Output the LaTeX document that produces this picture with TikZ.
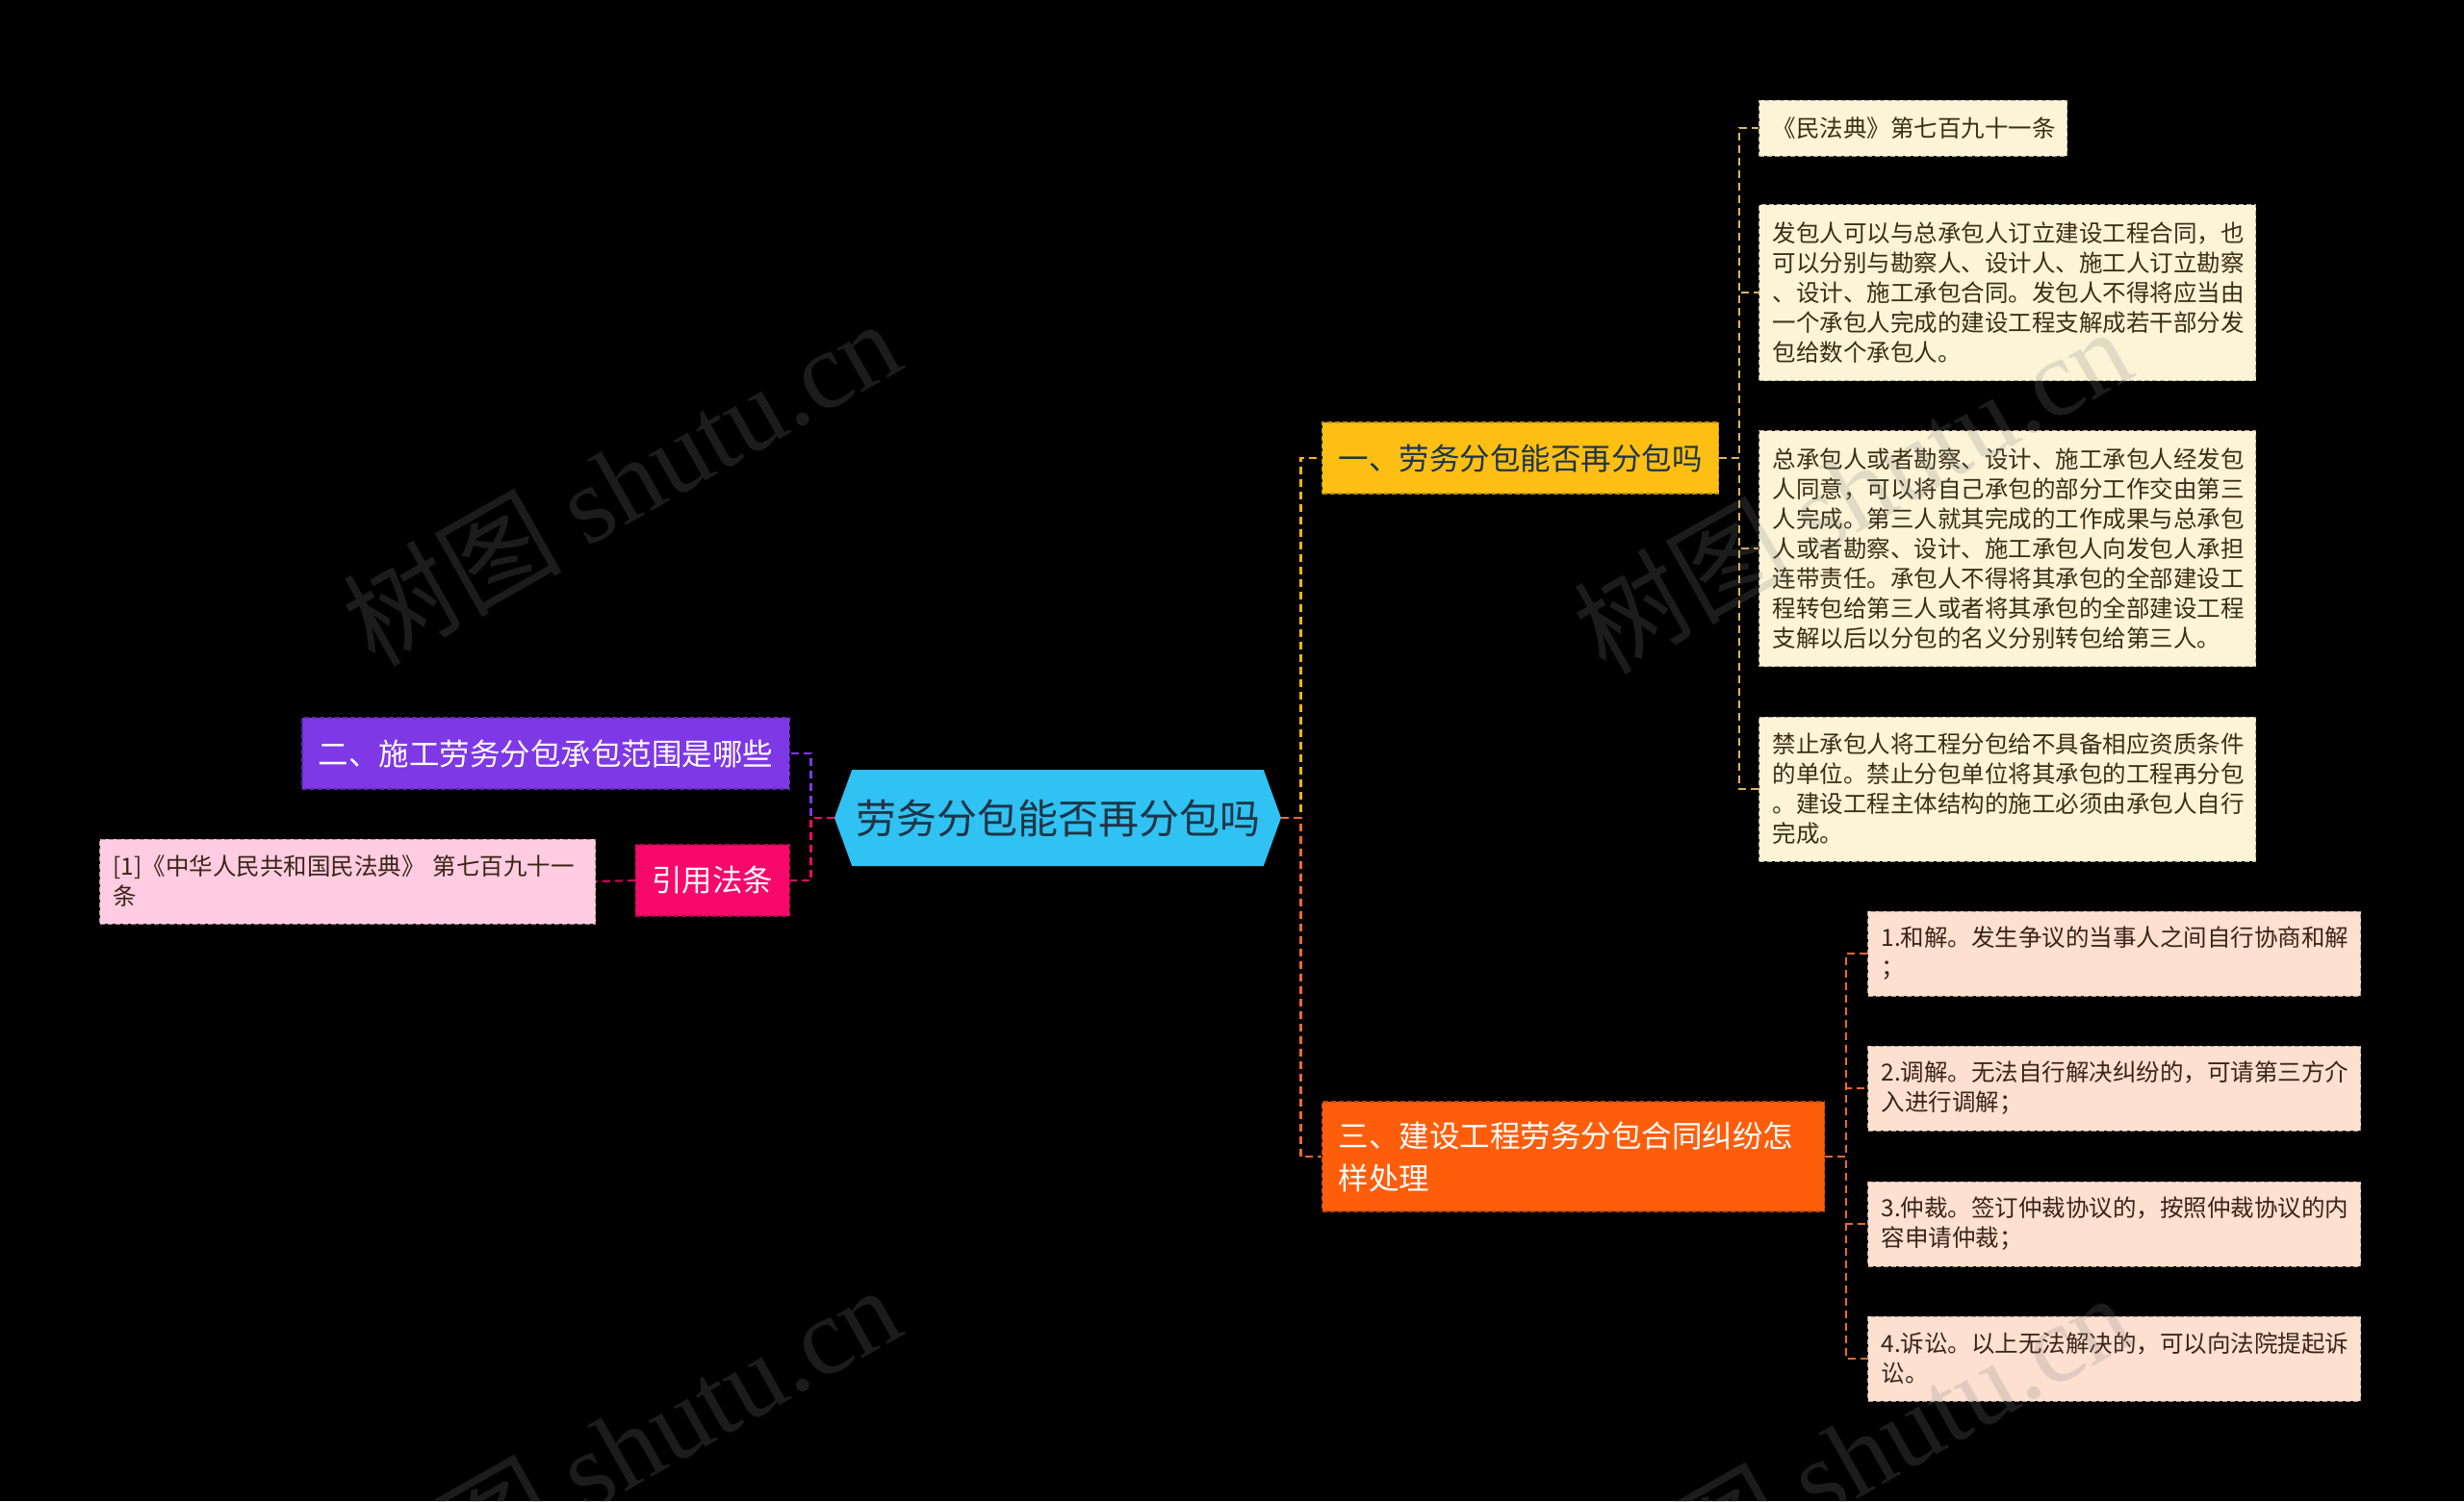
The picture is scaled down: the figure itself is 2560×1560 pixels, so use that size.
\documentclass[tikz,border=0pt]{standalone}
\usepackage{fontspec}
\setmainfont{Noto Sans CJK SC}
\newfontfamily\wmlatin{Liberation Serif}
\usetikzlibrary{shapes.symbols}

\definecolor{rootcyan}{HTML}{2FC2F2}
\definecolor{roottext}{HTML}{1E3546}
\definecolor{goldfill}{HTML}{FDBF14}
\definecolor{goldline}{HTML}{F4B800}
\definecolor{creamfill}{HTML}{FDF4D8}
\definecolor{creamline}{HTML}{DDB55C}
\definecolor{creamtext}{HTML}{3A2E14}
\definecolor{purplefill}{HTML}{7E38E6}
\definecolor{rosefill}{HTML}{F7086B}
\definecolor{pinkfill}{HTML}{FFCCE1}
\definecolor{orangefill}{HTML}{FE5E0C}
\definecolor{orangeline}{HTML}{EC6A2C}
\definecolor{peachfill}{HTML}{FDE0D0}
\definecolor{darktext}{HTML}{3A2418}

\tikzset{
  rootbox/.style={signal, signal to=west and east, signal pointer angle=140,
    fill=rootcyan, text=roottext, inner sep=0pt,
    font=\fontsize{21pt}{25pt}\selectfont,
    minimum width=232pt, minimum height=50pt},
  topic/.style={fill=#1, draw=#1!75!black, line width=0.6pt,
    dash pattern=on 2.5pt off 1.5pt, text=white, inner ysep=0pt, inner xsep=8.5pt,
    font=\fontsize{15.75pt}{22pt}\selectfont, minimum height=37pt},
  leaf/.style={fill=#1, draw=#1!70!black, line width=0.5pt,
    dash pattern=on 2.5pt off 1.5pt, text=darktext, inner ysep=0pt, inner xsep=7pt,
    align=left, font=\fontsize{12.25pt}{15.5pt}\selectfont},
  link/.style={draw=#1, line width=1.1pt, dash pattern=on 4pt off 2.5pt},
  watermark/.style={rotate=29.5, text=gray, opacity=0.22,
    font=\fontsize{57pt}{57pt}\selectfont}
}

\begin{document}
\begin{tikzpicture}[x=0.5pt,y=-0.5pt]
  \useasboundingbox (0,0) rectangle (2560,1560);
  \fill[black] (0,0) rectangle (2560,1560);

  % centre and main topics
  \node[rootbox] (0) at (1099,850) {劳务分包能否再分包吗};
  \node[topic=goldfill, text=roottext, anchor=west, minimum width=206pt] (1) at (1373,476) {一、劳务分包能否再分包吗};
  \node[topic=purplefill, anchor=east, minimum width=252pt] (2) at (821,783) {二、施工劳务分包承包范围是哪些};
  \node[topic=orangefill, anchor=west, text width=244pt, align=left, minimum height=57pt] (3) at (1373,1202) {三、建设工程劳务分包合同纠纷怎\\样处理};
  \node[topic=rosefill, anchor=east, minimum width=79pt] (4) at (821,915) {引用法条};

  % leaves of the first topic
  \node[leaf=creamfill, text=creamtext, anchor=west, text width=146pt, minimum height=29pt] (11) at (1827,133) {《民法典》第七百九十一条};
  \node[leaf=creamfill, text=creamtext, anchor=west, text width=244pt, minimum height=91.5pt] (12) at (1827,304) {发包人可以与总承包人订立建设工程合同，也\\可以分别与勘察人、设计人、施工人订立勘察\\、设计、施工承包合同。发包人不得将应当由\\一个承包人完成的建设工程支解成若干部分发\\包给数个承包人。};
  \node[leaf=creamfill, text=creamtext, anchor=west, text width=244pt, minimum height=122.5pt] (13) at (1827,570) {总承包人或者勘察、设计、施工承包人经发包\\人同意，可以将自己承包的部分工作交由第三\\人完成。第三人就其完成的工作成果与总承包\\人或者勘察、设计、施工承包人向发包人承担\\连带责任。承包人不得将其承包的全部建设工\\程转包给第三人或者将其承包的全部建设工程\\支解以后以分包的名义分别转包给第三人。};
  \node[leaf=creamfill, text=creamtext, anchor=west, text width=244pt, minimum height=75pt] (14) at (1827,820) {禁止承包人将工程分包给不具备相应资质条件\\的单位。禁止分包单位将其承包的工程再分包\\。建设工程主体结构的施工必须由承包人自行\\完成。};

  % leaves of the third topic
  \node[leaf=peachfill, anchor=west, text width=242pt, minimum height=44pt] (31) at (1940,991) {1.和解。发生争议的当事人之间自行协商和解\\；};
  \node[leaf=peachfill, anchor=west, text width=242pt, minimum height=44pt] (32) at (1940,1131) {2.调解。无法自行解决纠纷的，可请第三方介\\入进行调解；};
  \node[leaf=peachfill, anchor=west, text width=242pt, minimum height=44pt] (33) at (1940,1272) {3.仲裁。签订仲裁协议的，按照仲裁协议的内\\容申请仲裁；};
  \node[leaf=peachfill, anchor=west, text width=242pt, minimum height=44pt] (34) at (1940,1412) {4.诉讼。以上无法解决的，可以向法院提起诉\\讼。};

  % cited law
  \node[leaf=pinkfill, anchor=east, text width=243.5pt, minimum height=44pt] (41) at (619,916) {[1]《中华人民共和国民法典》 第七百九十一\\条};

  % connectors
  \draw[link=goldline] (0.east) -- ++(10pt,0) |- (1.west);
  \draw[link=orangeline] (0.east) -- ++(10pt,0) |- (3.west);
  \draw[link=purplefill] (0.west) -- ++(-12pt,0) |- (2.east);
  \draw[link=rosefill] (0.west) -- ++(-12pt,0) |- (4.east);
  \draw[link=rosefill!80!black] (4.west) -- (41.east);
  \foreach \i in {11,12,13,14}
    \draw[link=creamline] (1.east) -- ++(10.5pt,0) |- (\i.west);
  \foreach \i in {31,32,33,34}
    \draw[link=orangeline] (3.east) -- ++(11pt,0) |- (\i.west);

  % watermark
  \foreach \x/\y [count=\k] in {645/500, 1924/508, 645/1504, 1924/1512}
    \node[watermark] (wm\k) at (\x,\y) {树图 {\wmlatin shutu.cn}};
\end{tikzpicture}
\end{document}
